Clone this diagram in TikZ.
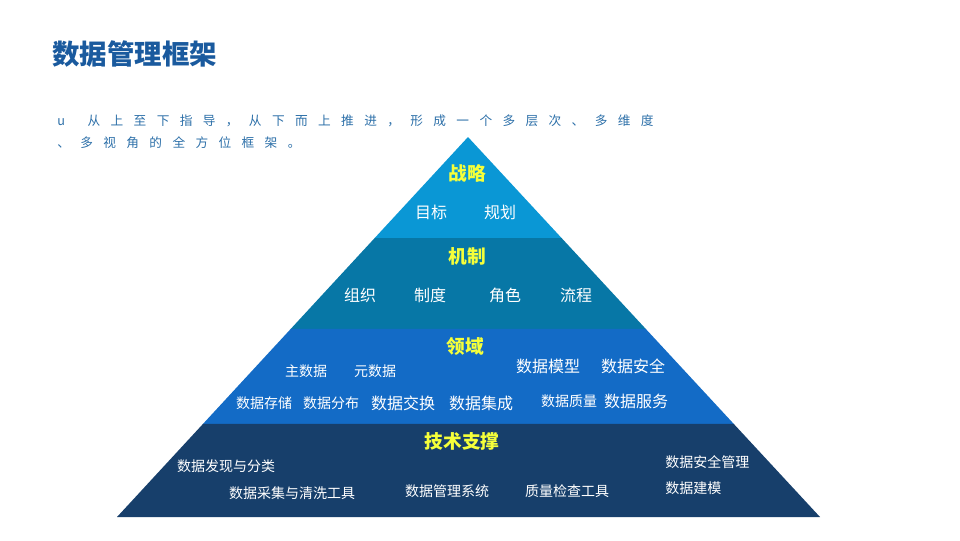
\documentclass[tikz,border=0pt]{standalone}
\usepackage{fontspec}
\setmainfont{Noto Sans CJK SC}
\newfontfamily\rada[LetterSpace=82]{Noto Sans CJK SC}
\usetikzlibrary{calc}
\definecolor{bluTitolo}{HTML}{1A5A9E}
\definecolor{bluTesto}{HTML}{2C6FA8}
\definecolor{strato1}{HTML}{0A97D5}
\definecolor{strato2}{HTML}{0777A6}
\definecolor{strato3}{HTML}{136BC6}
\definecolor{strato4}{HTML}{173F6B}
\definecolor{giallo}{HTML}{F5FF3A}
\tikzset{
testa/.style={font=\fontsize{14}{16}\selectfont\bfseries,text=giallo},
voce/.style={font=\fontsize{12}{14}\selectfont,text=white},
piccola/.style={font=\fontsize{10.5}{12}\selectfont,text=white},
riga/.style={anchor=west,font=\rada\fontsize{9.5}{11}\selectfont,text=bluTesto}}

\begin{document}
\begin{tikzpicture}[x=0.75pt,y=-0.75pt,inner sep=0pt]
\useasboundingbox (0,0) rectangle (960,540);

\node[anchor=west,font=\fontsize{20.6}{24}\selectfont\bfseries,text=bluTitolo] (titolo) at (52,54) {数据管理框架};
\node[riga] (riga1) at (57,121) {u\hspace{17pt}从上至下指导，从下而上推进，形成一个多层次、多维度};
\node[riga] (riga2) at (57,143) {、多视角的全方位框架。};

% piramide
\coordinate (apice) at (468,137);
\coordinate (bs) at (117,517);
\coordinate (bd) at (820,517);
\coordinate (s1) at ($(apice)!0.2658!(bs)$);
\coordinate (d1) at ($(apice)!0.2658!(bd)$);
\coordinate (s2) at ($(apice)!0.505!(bs)$);
\coordinate (d2) at ($(apice)!0.505!(bd)$);
\coordinate (s3) at ($(apice)!0.755!(bs)$);
\coordinate (d3) at ($(apice)!0.755!(bd)$);

\fill[strato1] (apice) -- (d1) -- (s1) -- cycle;
\fill[strato2] (s1) -- (d1) -- (d2) -- (s2) -- cycle;
\fill[strato3] (s2) -- (d2) -- (d3) -- (s3) -- cycle;
\fill[strato4] (s3) -- (d3) -- (bd) -- (bs) -- cycle;

\node[testa] (strategia) at (467,173) {战略};
\node[voce] (obiettivo) at (431,212) {目标};
\node[voce] (piano) at (500,212) {规划};

\node[testa] (meccanismo) at (467,256) {机制};
\node[voce] (organizzazione) at (360,295) {组织};
\node[voce] (sistema) at (430,295) {制度};
\node[voce] (ruolo) at (505,295) {角色};
\node[voce] (processo) at (576,295) {流程};

\node[testa] (dominio) at (465,346) {领域};
\node[piccola] (master) at (306,371) {主数据};
\node[piccola] (meta) at (375,371) {元数据};
\node[voce] (modello) at (548,366) {数据模型};
\node[voce] (sicurezza) at (633,366) {数据安全};
\node[piccola] (archivio) at (264,403) {数据存储};
\node[piccola] (distribuzione) at (331,403) {数据分布};
\node[voce] (scambio) at (403,403) {数据交换};
\node[voce] (integrazione) at (481,403) {数据集成};
\node[piccola] (qualita) at (569,401) {数据质量};
\node[voce] (servizio) at (636,401) {数据服务};

\node[testa] (tecnica) at (462,441) {技术支撑};
\node[piccola] (scoperta) at (226,466) {数据发现与分类};
\node[piccola] (raccolta) at (292,493) {数据采集与清洗工具};
\node[piccola] (gestione) at (447,491) {数据管理系统};
\node[piccola] (controllo) at (567,491) {质量检查工具};
\node[piccola,anchor=west] (protezione) at (665,462) {数据安全管理};
\node[piccola,anchor=west] (modellazione) at (665,488) {数据建模};

\end{tikzpicture}
\end{document}
